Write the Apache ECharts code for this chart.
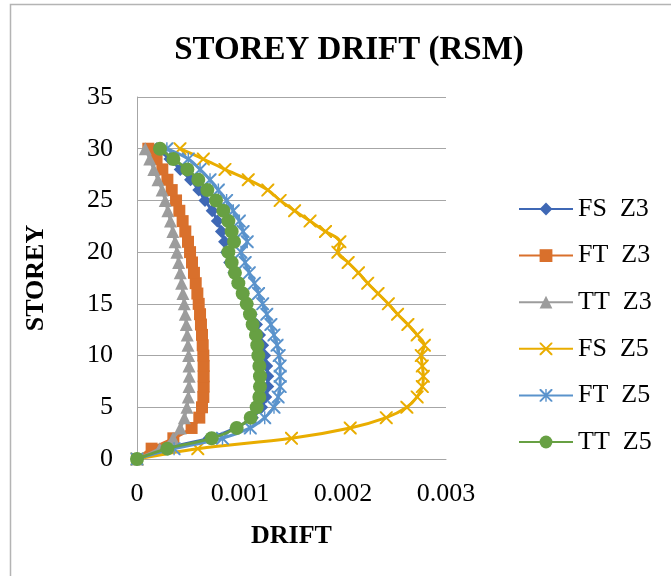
<!DOCTYPE html>
<html>
<head>
<meta charset="utf-8">
<script src="https://cdn.jsdelivr.net/npm/echarts@6/dist/echarts.min.js"></script>
<style>
  html, body { margin: 0; padding: 0; background: #ffffff; }
  #chart { width: 671px; height: 576px; }
</style>
</head>
<body>
<div id="chart"></div>
<script>
// Storey numbers (vertical axis) and the drift of each load case at every storey.
const storeys = [0, 1, 2, 3, 4, 5, 6, 7, 8, 9, 10, 11, 12, 13, 14, 15, 16, 17, 18, 19, 20,
                 21, 22, 23, 24, 25, 26, 27, 28, 29, 30];

const fsZ3 = [0, 0.00027, 0.00070, 0.00096, 0.00112, 0.00121, 0.00125, 0.00127, 0.00127, 0.00126,
              0.00124, 0.00122, 0.00119, 0.00116, 0.00111, 0.00107, 0.00103, 0.00098, 0.00094, 0.00090,
              0.00087, 0.00085, 0.00082, 0.00078, 0.00073, 0.00066, 0.00060, 0.00052, 0.00042, 0.00032,
              0.00019];
const ftZ3 = [0, 0.000142, 0.000353, 0.00053, 0.000605, 0.000631, 0.000644, 0.000647, 0.000647, 0.000647,
              0.000644, 0.000638, 0.000631, 0.000621, 0.000612, 0.000599, 0.000586, 0.00057, 0.000553, 0.000534,
              0.000515, 0.000495, 0.000469, 0.000443, 0.000411, 0.000379, 0.000337, 0.000295, 0.000246, 0.00019,
              0.00011];
const ttZ3 = [0, 0.00022, 0.00035, 0.00042, 0.00046, 0.000485, 0.000498, 0.000505, 0.000507, 0.000505,
              0.000501, 0.000495, 0.000488, 0.000479, 0.000469, 0.000459, 0.000446, 0.000433, 0.00042, 0.000404,
              0.000388, 0.00037, 0.000348, 0.000325, 0.0003, 0.000274, 0.000244, 0.000204, 0.000163, 0.000124,
              0.00008];
const fsZ5 = [0, 0.00059, 0.0015, 0.00207, 0.00242, 0.00262, 0.00272, 0.00277, 0.00278, 0.00277,
              0.00276, 0.00279, 0.00272, 0.00263, 0.00253, 0.00244, 0.00234, 0.00224, 0.00215, 0.00205,
              0.00195, 0.00197, 0.00183, 0.00168, 0.00153, 0.00139, 0.00127, 0.00108, 0.000854, 0.000644,
              0.000417];
const ftZ5 = [0, 0.00036, 0.00083, 0.0011, 0.00124, 0.00133, 0.00137, 0.00139, 0.00139, 0.00139,
              0.00138, 0.00136, 0.00133, 0.0013, 0.00126, 0.00122, 0.00118, 0.00114, 0.00109, 0.00105,
              0.00101, 0.00107, 0.00103, 0.000994, 0.000935, 0.00087, 0.00079, 0.000709, 0.000612, 0.000498,
              0.00029];
const ttZ5 = [0, 0.000294, 0.000725, 0.000968, 0.001104, 0.001162, 0.001188, 0.001194, 0.001194, 0.001188,
              0.001178, 0.001168, 0.001155, 0.001123, 0.001097, 0.001065, 0.001026, 0.000984, 0.000951, 0.000919,
              0.000887, 0.000942, 0.000919, 0.000887, 0.000838, 0.000767, 0.000683, 0.000595, 0.000489, 0.000353,
              0.000223];

const xTicks = ['0', '0.001', '0.002', '0.003'];
const seriesNames = ['FS  Z3', 'FT  Z3', 'TT  Z3', 'FS  Z5', 'FT  Z5', 'TT  Z5'];

const SERIF = "'Liberation Serif', 'Times New Roman', serif";

// Cross and asterisk marker outlines
const crossPath = 'path://M0,0 L1.1,0 L5,3.9 L8.9,0 L10,0 L10,1.1 L6.1,5 L10,8.9 L10,10 L8.9,10 L5,6.1 L1.1,10 L0,10 L0,8.9 L3.9,5 L0,1.1 Z';
const starPath = 'path://M0,0 L1.1,0 L5,3.9 L8.9,0 L10,0 L10,1.1 L6.1,5 L10,8.9 L10,10 L8.9,10 L5,6.1 L1.1,10 L0,10 L0,8.9 L3.9,5 L0,1.1 Z M4.45,0 L5.55,0 L5.55,10 L4.45,10 Z';

function pairs(xs) {
  return storeys.map((s, i) => [xs[i], s]);
}

const styles = [
  { data: fsZ3, color: '#3f68b5', symbol: 'diamond', size: 13 },
  { data: ftZ3, color: '#d9702c', symbol: 'rect', size: 12 },
  { data: ttZ3, color: '#9c9c9c', symbol: 'triangle', size: 13 },
  { data: fsZ5, color: '#e9ad00', symbol: crossPath, size: 13 },
  { data: ftZ5, color: '#5a93cc', symbol: starPath, size: 13 },
  { data: ttZ5, color: '#67a043', symbol: 'circle', size: 14 }
];

const series = styles.map((st, i) => ({
  name: seriesNames[i],
  type: 'line',
  data: pairs(st.data),
  smooth: 0.35,
  symbol: st.symbol,
  symbolSize: st.size,
  showAllSymbol: true,
  lineStyle: { color: st.color, width: 3 },
  itemStyle: { color: st.color, borderWidth: 0 },
  emphasis: { disabled: true },
  z: 2 + i
}));

const chart = echarts.init(document.getElementById('chart'), null, { renderer: 'canvas' });
chart.setOption({
  animation: false,
  backgroundColor: '#ffffff',
  title: {
    text: 'STOREY DRIFT (RSM)',
    left: 344,
    top: 29,
    textAlign: 'center',
    textStyle: { fontFamily: SERIF, fontSize: 33, fontWeight: 'bold', color: '#000000' }
  },
  graphic: [{
    type: 'rect',
    shape: { x: 10.5, y: 4.5, width: 720, height: 640 },
    style: { fill: 'none', stroke: '#b4b4b4', lineWidth: 1.5 },
    silent: true
  }],
  grid: { left: 137, top: 97, width: 309, height: 362, containLabel: false },
  xAxis: {
    type: 'value',
    min: 0,
    max: 0.003,
    interval: 0.001,
    name: 'DRIFT',
    nameLocation: 'middle',
    nameGap: 64,
    nameTextStyle: { fontFamily: SERIF, fontSize: 26, fontWeight: 'bold', color: '#000000' },
    axisLine: { show: true, lineStyle: { color: '#a6a6a6', width: 1 } },
    axisTick: { show: false },
    splitLine: { show: false },
    axisLabel: {
      margin: 22,
      fontFamily: SERIF, fontSize: 26, color: '#000000',
      formatter: (v) => xTicks[Math.round(v / 0.001)]
    }
  },
  yAxis: {
    type: 'value',
    min: 0,
    max: 35,
    interval: 5,
    name: 'STOREY',
    nameLocation: 'middle',
    nameRotate: 90,
    nameGap: 88,
    nameTextStyle: { fontFamily: SERIF, fontSize: 26, fontWeight: 'bold', color: '#000000' },
    axisLine: { show: true, lineStyle: { color: '#a6a6a6', width: 1 } },
    axisTick: { show: false },
    splitLine: { show: true, lineStyle: { color: '#a6a6a6', width: 1 } },
    axisLabel: { margin: 24, fontFamily: SERIF, fontSize: 26, color: '#000000' }
  },
  legend: {
    orient: 'vertical',
    left: 513,
    top: 189,
    itemWidth: 54,
    itemHeight: 16,
    itemGap: 16.6,
    selectedMode: false,
    textStyle: { fontFamily: SERIF, fontSize: 26, color: '#000000', lineHeight: 30 },
    data: seriesNames
  },
  series: series
});
</script>
</body>
</html>
